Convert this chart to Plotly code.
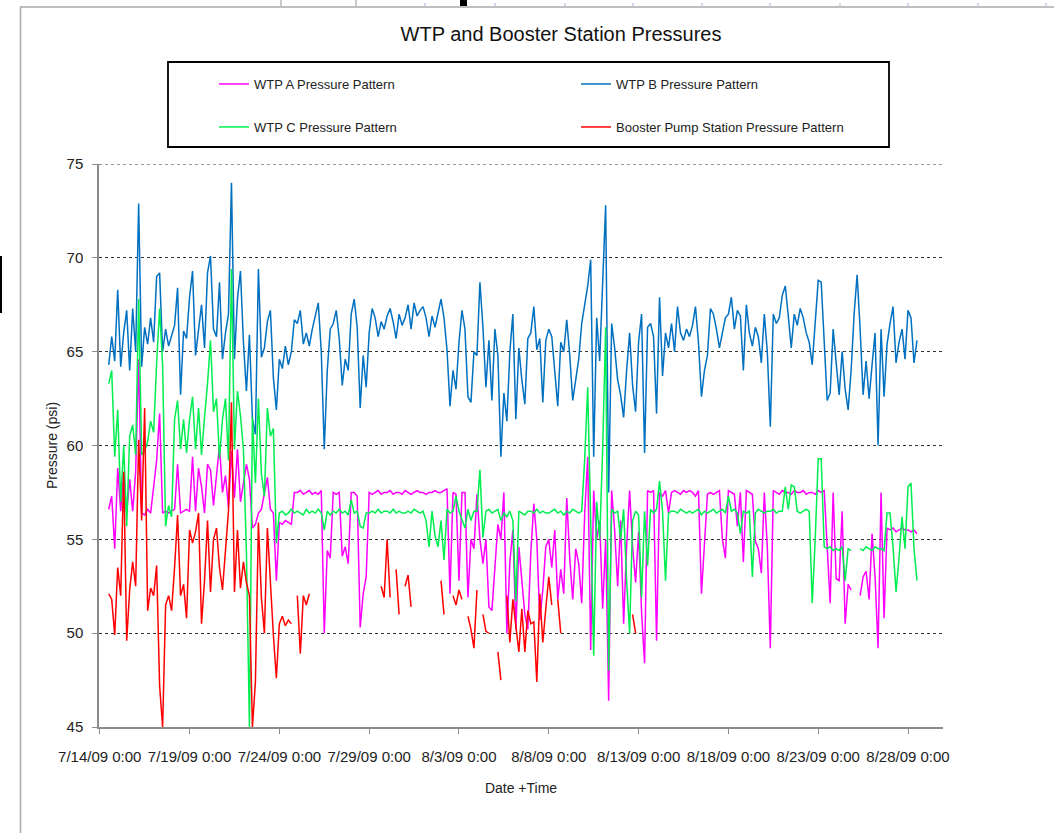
import pandas as pd
import plotly.graph_objects as go

# ---------------- data (4-hour samples, starting 7/14/09 12:00) ----------------
start_time = "2009-07-14 12:00"
step = "4h"

wtp_a = [
    56.6, 57.3, 54.5,
    58.8, 56.5, 58.6, 56.4, 58.2, 56.5,
    58.6, 64.6, 56.4, 56.3, 56.6, 56.4,
    57.9, 59.2, 61.7, 56.4, 56.5, 56.4,
    56.5, 56.6, 59.0, 56.4, 56.5, 56.6,
    56.5, 59.4, 56.5, 58.8, 57.8, 56.4,
    59.0, 58.7, 56.8, 58.3, 60.0, 57.5,
    58.4, 56.7, 59.7, 57.2, 59.8, 57.0,
    58.0, 59.0, 58.2, 55.6, 55.8, 56.4,
    56.6, 57.5, 58.3, 56.6, 56.4, 52.8,
    55.9, 55.8, 56.0, 55.9, 55.8, 57.5,
    57.5, 57.6, 57.4, 57.5, 57.6, 57.4,
    57.5, 57.4, 57.6, 50.0, 54.4, 54.0,
    57.5, 57.4, 57.5, 54.1, 54.6, 53.7,
    57.5, 57.5, 57.3, 50.3, 52.1, 53.0,
    57.5, 57.4, 57.5, 57.6, 57.4, 57.5,
    57.5, 57.6, 57.4, 57.5, 57.5, 57.4,
    57.6, 57.5, 57.4, 57.5, 57.6, 57.5,
    57.5, 57.4, 57.5, 57.5, 57.6, 57.5,
    57.5, 57.6, 57.7, 52.1, 57.5, 57.4,
    52.8, 57.5, 57.5, 51.9, 55.0, 54.5,
    57.4, 55.0, 53.7, 55.0, 51.4, 51.2,
    53.8, 55.8, 55.0, 57.5, 50.0, 53.8,
    55.5, 50.2, 54.6, 53.0, 51.0, 50.2,
    54.3, 56.9, 55.0, 50.7, 52.3, 54.6,
    55.0, 53.5, 55.5, 51.8, 53.4, 52.1,
    57.2, 54.0, 51.8, 54.5, 53.7, 51.6,
    56.4, 59.4, 49.1, 57.6, 55.0, 56.0,
    51.3, 55.0, 46.4, 57.6, 55.5, 52.5,
    56.0, 50.5, 54.6, 57.6, 54.6, 52.7,
    55.4, 51.1, 48.4, 57.6, 57.5, 57.6,
    49.6, 57.5, 57.3, 57.6, 56.4, 57.5,
    57.6, 57.5, 57.4, 57.6, 57.5, 57.6,
    57.5, 57.3, 57.6, 52.1, 54.8, 57.4,
    57.5, 57.4, 57.5, 57.6, 55.0, 54.0,
    57.6, 57.5, 57.4, 55.7, 57.5, 53.8,
    57.6, 57.5, 57.4, 54.9, 54.5, 53.2,
    57.5, 54.6, 49.2, 57.6, 57.5, 57.4,
    57.6, 57.5, 57.5, 57.4, 57.6, 57.5,
    57.5, 57.6, 57.4, 57.5, 57.5, 57.4,
    57.6, 57.5, 57.6, 54.6, 51.6, 57.5,
    52.9, 52.8, 56.5, 50.5, 52.6, 52.3,
    None, None, 52.0, 53.0, 53.3, 51.8,
    55.3, 53.0, 49.2, 57.5, 50.8, 55.6,
    55.5, 55.6, 55.4, 55.5, 55.6, 55.5,
    55.5, 55.4, 55.5, 55.3,
]

wtp_b = [
    64.3, 65.8, 64.5,
    68.3, 64.2, 66.0, 67.2, 64.0, 67.3,
    65.0, 72.9, 64.2, 66.3, 65.4, 66.8,
    65.5, 69.0, 69.2, 65.0, 66.2, 65.3,
    65.8, 66.4, 68.4, 62.7, 66.1, 65.7,
    67.9, 69.3, 64.8, 66.3, 67.5, 65.2,
    69.2, 70.1, 66.2, 65.8, 68.7, 64.6,
    66.0, 67.0, 74.0, 64.6, 67.8, 69.3,
    65.5, 62.9, 65.9, 61.4, 60.6, 69.4,
    64.7, 65.2, 66.6, 67.2, 63.6, 61.9,
    64.6, 64.1, 65.3, 64.3, 65.0, 66.7,
    66.5, 67.2, 65.4, 66.0, 65.3, 66.2,
    67.0, 67.6, 65.0, 59.8, 64.0, 66.2,
    66.5, 67.2, 65.7, 63.2, 64.6, 64.0,
    67.0, 67.8, 66.3, 62.0, 64.8, 63.1,
    66.0, 67.3, 66.8, 65.8, 66.6, 66.2,
    66.9, 67.3, 66.6, 65.7, 67.0, 66.4,
    66.8, 67.5, 66.2, 67.6, 66.9, 67.2,
    67.4, 66.8, 65.8, 66.9, 66.3, 67.0,
    67.8, 66.8, 65.1, 62.1, 64.0, 63.0,
    65.5, 67.2, 66.2, 62.6, 62.3, 65.0,
    64.8, 68.7, 66.3, 63.1, 65.6, 62.4,
    66.2, 64.8, 59.4, 62.8, 61.3, 65.0,
    67.0, 61.4, 65.2, 63.5, 62.2, 65.7,
    66.0, 67.4, 65.1, 65.7, 62.3, 65.6,
    66.2, 65.8, 64.0, 62.1, 65.5, 65.0,
    66.7, 64.8, 62.4, 63.4, 64.6, 66.5,
    67.5, 68.5, 69.9, 59.4, 66.8, 64.5,
    68.7, 72.8, 57.5, 66.5, 65.2, 63.5,
    62.7, 61.5, 64.0, 66.0, 63.2, 61.8,
    65.5, 67.0, 59.6, 66.3, 66.5, 65.8,
    61.7, 67.9, 63.7, 66.0, 65.2, 66.5,
    65.0, 67.4, 66.0, 65.6, 66.2, 65.8,
    66.4, 67.4, 65.5, 62.6, 64.0, 64.8,
    67.3, 67.0, 66.2, 65.2, 66.0, 66.8,
    67.0, 67.9, 66.2, 67.2, 66.9, 64.0,
    67.5, 66.0, 65.3, 66.3, 65.8, 64.4,
    67.0, 65.0, 61.0, 67.0, 66.5, 66.8,
    68.0, 68.5, 66.9, 65.2, 67.0, 66.4,
    67.3, 66.8, 66.0, 65.5, 64.3, 66.5,
    68.8, 68.7, 65.5, 62.4, 62.8, 66.2,
    64.4, 62.7, 65.0, 63.0, 61.9, 64.0,
    67.0, 69.1, 66.2, 62.7, 64.5, 62.5,
    64.3, 66.0, 60.0, 66.2, 62.6, 65.4,
    66.5, 67.4, 64.4, 65.5, 66.2, 64.6,
    67.2, 66.8, 64.4, 65.6,
]

wtp_c = [
    63.3, 64.0, 59.4,
    61.9, 57.0, 60.0, 55.7, 60.5, 61.1,
    59.5, 67.8, 59.5, 59.7, 60.2, 61.3,
    60.7, 64.4, 67.3, 64.3, 55.7, 56.8,
    56.2, 61.4, 62.4, 59.8, 61.4, 59.6,
    61.4, 62.6, 59.8, 62.0, 59.5, 61.5,
    63.3, 65.6, 61.8, 62.5, 59.3, 61.4,
    62.5, 59.2, 69.4, 59.8, 62.9, 61.6,
    59.8, 54.3, 45.0, 61.5, 58.0, 62.5,
    58.5, 57.3, 62.0, 60.5, 60.9, 54.8,
    56.4, 56.5, 56.3, 56.4, 56.6, 56.4,
    56.5, 56.4, 56.3, 56.6, 56.4, 56.5,
    56.4, 56.6, 56.4, 55.5, 56.5, 56.3,
    56.5, 56.4, 56.6, 56.4, 56.5, 56.3,
    57.1, 56.4, 56.5, 55.7, 55.6, 56.4,
    56.4, 56.5, 56.4, 56.6, 56.4, 56.5,
    56.5, 56.4, 56.6, 56.4, 56.5, 56.4,
    56.4, 56.5, 56.4, 56.6, 56.5, 56.4,
    56.5, 56.0, 54.6, 56.5, 55.2, 54.6,
    56.0, 53.9, 56.6, 56.4, 56.5, 57.3,
    56.5, 56.0, 55.6, 56.6, 56.0, 56.5,
    56.5, 58.7, 55.1, 56.5, 56.6, 56.4,
    56.5, 56.6, 56.0, 56.4, 56.2, 56.5,
    56.0, 51.7, 56.5, 56.4, 56.3, 56.5,
    56.5, 56.4, 56.6, 56.4, 56.5, 56.4,
    56.4, 56.5, 56.6, 56.4, 56.5, 56.3,
    56.5, 56.4, 56.6, 56.5, 56.4, 56.5,
    59.3, 63.1, 56.0, 48.8, 57.0, 55.0,
    59.8, 66.3, 48.0, 56.6, 56.4, 56.5,
    55.0, 56.6, 52.8, 50.0, 56.0, 56.5,
    56.3, 51.9, 56.5, 53.6, 56.6, 56.4,
    56.6, 58.1, 56.5, 52.8, 56.4, 56.5,
    56.5, 56.4, 56.6, 56.5, 56.4, 56.5,
    56.4, 56.5, 56.6, 56.3, 56.5, 56.4,
    56.5, 56.6, 56.4, 56.5, 56.6, 56.4,
    57.3, 56.5, 56.6, 56.4, 55.3, 56.5,
    56.4, 56.5, 53.0, 56.4, 56.6, 56.5,
    56.4, 56.5, 56.5, 56.6, 56.4, 56.5,
    56.5, 57.8, 56.6, 57.9, 57.8, 56.5,
    56.4, 56.5, 56.6, 56.5, 51.6, 55.0,
    59.3, 59.3, 54.6, 54.5, 54.6, 54.4,
    54.5, 54.4, 54.6, 52.8, 54.5, 54.4,
    None, None, 54.5, 54.4, 54.6, 54.5,
    54.4, 54.6, 54.5, 54.5, 54.4, 56.4,
    56.4, 54.6, 52.2, 54.0, 56.2, 54.5,
    57.8, 58.0, 54.5, 52.8,
]

N = None
booster = [
    52.1, 51.8, 49.9,
    53.5, 52.0, 58.6, 49.6, 52.3, 53.8,
    52.5, 60.3, 56.0, 62.0, 51.2, 52.4,
    52.0, 53.6, 47.2, 45.0, 51.5, 52.0,
    51.2, 53.5, 56.3, 52.0, 52.6, 50.8,
    55.5, 54.8, 55.4, 56.4, 50.5, 52.8,
    56.0, 52.2, 55.0, 55.6, 53.5, 52.3,
    54.6, 56.5, 62.3, 52.2, 55.5, 52.4,
    53.8, 52.7, 52.0, 45.0, 47.4, 55.9,
    51.9, 50.0, 55.6, 52.5, 49.9, 47.6,
    50.5, 50.9, 50.4, 50.7, 50.5, N,
    52.0, 48.9, 52.0, 51.5, 52.1, N,
    N, N, N, N, N, N,
    N, N, N, N, N, N,
    N, N, N, N, N, N,
    N, N, N, N, 52.5, 51.9,
    55.0, 51.9, N, 53.4, 51.0, N,
    52.5, 53.1, 51.4, N, N, N,
    N, N, N, N, N, N,
    52.8, 51.0, N, N, 52.0, 51.5,
    52.3, 51.8, N, 50.9, 50.2, 49.2,
    52.3, N, 51.0, 50.1, 50.0, N,
    N, 49.0, 47.5, N, 52.0, 49.5,
    51.8, 50.5, 49.0, 51.3, 49.0, 51.2,
    50.5, 50.6, 47.4, 52.1, 49.5, 51.3,
    53.0, 51.5, N, 51.8, 50.0, N,
    N, N, N, N, N, N,
    N, N, N, N, N, N,
    N, N, N, N, N, N,
    N, N, N, N, 51.0, 50.0,
    N, N, N, N, N, N,
    N, N, N, N, N, N,
    N, N, N, N, N, N,
    N, N, N, N, N, N,
    N, N, N, N, N, N,
    N, N, N, N, N, N,
    N, N, N, N, N, N,
    N, N, N, N, N, N,
    N, N, N, N, N, N,
    N, N, N, N, N, N,
    N, N, N, N, N, N,
    N, N, N, N, N, N,
    N, N, N, N, N, N,
    N, N, N, N, N, N,
    N, N, N, N, N, N,
    N, N, N, N,
]

series_names = [
    "WTP A Pressure Pattern",
    "WTP B Pressure Pattern",
    "WTP C Pressure Pattern",
    "Booster Pump Station Pressure Pattern",
]

tick_dates = ["2009-07-14", "2009-07-19", "2009-07-24", "2009-07-29", "2009-08-03",
              "2009-08-08", "2009-08-13", "2009-08-18", "2009-08-23", "2009-08-28"]
tick_labels = ["7/14/09 0:00", "7/19/09 0:00", "7/24/09 0:00", "7/29/09 0:00", "8/3/09 0:00",
               "8/8/09 0:00", "8/13/09 0:00", "8/18/09 0:00", "8/23/09 0:00", "8/28/09 0:00"]
y_ticks = [45, 50, 55, 60, 65, 70, 75]

# ---------------- figure ----------------
W, H = 1054, 833
ML, MR, MT, MB = 99, 111, 164, 106
PW, PH = W - ML - MR, H - MT - MB

def px_x(x):
    return (x - ML) / PW

def px_y(y):
    return (H - MB - y) / PH

FONT = "Liberation Sans, Arial, sans-serif"

colors = ["#FF00FF", "#0070C0", "#00EE50", "#FF0000"]
legends = ["legend", "legend", "legend2", "legend2"]
all_series = [wtp_a, wtp_b, wtp_c, booster]

fig = go.Figure()
for name, vals, col, lg in zip(series_names, all_series, colors, legends):
    t = pd.date_range(start_time, periods=len(vals), freq=step)
    fig.add_trace(go.Scatter(
        x=t, y=vals, mode="lines", name=name,
        line=dict(color=col, width=1.5),
        connectgaps=False, legend=lg,
    ))

leg_common = dict(
    orientation="h", xanchor="left", yanchor="middle",
    entrywidth=317, entrywidthmode="pixels",
    bgcolor="rgba(0,0,0,0)", borderwidth=0,
    font=dict(family=FONT, size=13, color="#222"),
    traceorder="normal",
)

fig.update_layout(
    width=W, height=H,
    margin=dict(l=ML, r=MR, t=MT, b=MB, autoexpand=False),
    paper_bgcolor="white", plot_bgcolor="white",
    font=dict(family=FONT, color="#222"),
    title=dict(text="WTP and Booster Station Pressures", x=561 / W, xanchor="center",
               y=1 - 34 / H, yanchor="middle",
               font=dict(family=FONT, size=20, color="#111")),
    legend=dict(x=px_x(214), y=px_y(84), **leg_common),
    legend2=dict(x=px_x(214), y=px_y(127), **leg_common),
    xaxis=dict(
        type="date",
        range=["2009-07-13 23:00", "2009-08-29 22:45"],
        tickvals=tick_dates, ticktext=tick_labels,
        showgrid=False, zeroline=False,
        showline=True, linecolor="#8c8c8c", linewidth=1.5,
        ticks="outside", ticklen=5, tickcolor="#8c8c8c", tickwidth=1,
        tickfont=dict(family=FONT, size=15, color="#222"),
        ticklabelstandoff=10,
        title=dict(text="Date +Time", font=dict(family=FONT, size=14, color="#222"), standoff=19),
    ),
    yaxis=dict(
        range=[45, 75], tickvals=y_ticks,
        showgrid=True, gridcolor="#333333", griddash="dot", gridwidth=1,
        zeroline=False,
        showline=True, linecolor="#8c8c8c", linewidth=1.5,
        ticks="outside", ticklen=5, tickcolor="#8c8c8c", tickwidth=1,
        tickfont=dict(family=FONT, size=15, color="#222"),
        ticklabelstandoff=6,
        title=dict(text="Pressure (psi)", font=dict(family=FONT, size=14, color="#222"), standoff=6),
    ),
    showlegend=True,
)

shapes = [
    # top gridline at 75 (plotly omits the grid line on the plot edge)
    dict(type="line", xref="paper", yref="y", x0=0, x1=1, y0=y_ticks[-1], y1=y_ticks[-1],
         line=dict(color="#333333", width=1, dash="dot")),
    # legend frame
    dict(type="rect", xref="paper", yref="paper",
         x0=px_x(168), x1=px_x(889), y0=px_y(147), y1=px_y(62),
         line=dict(color="black", width=1.8), fillcolor="rgba(0,0,0,0)"),
    # outer chart-area border (left and top)
    dict(type="line", xref="paper", yref="paper",
         x0=px_x(20.5), x1=px_x(20.5), y0=px_y(7), y1=px_y(833),
         line=dict(color="#aaaaaa", width=1.5)),
    dict(type="line", xref="paper", yref="paper",
         x0=px_x(20), x1=px_x(1054), y0=px_y(7), y1=px_y(7),
         line=dict(color="#aaaaaa", width=1.5)),
    # stray black bar at left edge
    dict(type="line", xref="paper", yref="paper",
         x0=px_x(1), x1=px_x(1), y0=px_y(256), y1=px_y(313),
         line=dict(color="black", width=2)),
    # black block at the top strip
    dict(type="rect", xref="paper", yref="paper",
         x0=px_x(460), x1=px_x(467), y0=px_y(6), y1=px_y(0),
         line=dict(width=0), fillcolor="black"),
]
for xs in [281, 356]:
    shapes.append(dict(type="line", xref="paper", yref="paper",
                       x0=px_x(xs), x1=px_x(xs), y0=px_y(6), y1=px_y(0),
                       line=dict(color="#999999", width=1)))
for xs in [425, 495, 565, 633, 702, 770, 840, 908, 978, 1046]:
    shapes.append(dict(type="line", xref="paper", yref="paper",
                       x0=px_x(xs), x1=px_x(xs), y0=px_y(6), y1=px_y(0),
                       line=dict(color="#9db4d8", width=1, dash="dot")))
fig.update_layout(shapes=shapes)

fig.write_html("out.html")
